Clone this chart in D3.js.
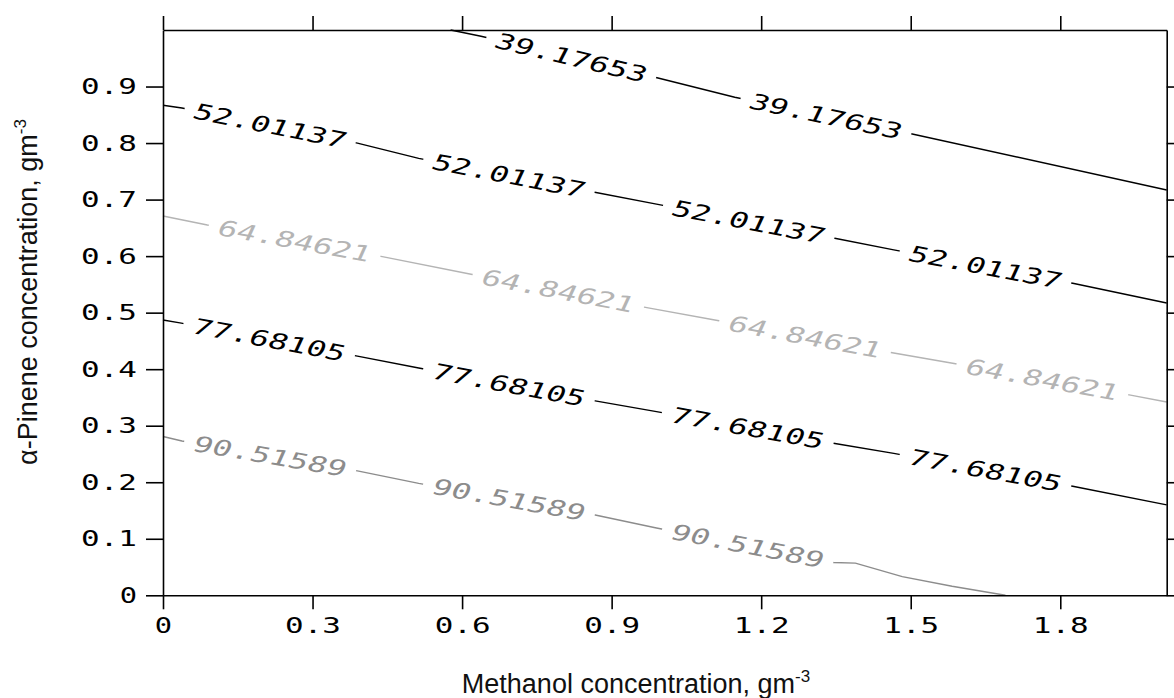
<!DOCTYPE html>
<html>
<head>
<meta charset="utf-8">
<script src="https://cdn.jsdelivr.net/npm/d3@7"></script>
<style>
  body { margin: 0; background: #fff; }
  svg { display: block; }
</style>
</head>
<body>
<svg id="chart" width="1174" height="698"></svg>
<script>
// axis ticks
var xTicks = [0, 0.3, 0.6, 0.9, 1.2, 1.5, 1.8]
var yTicks = [0, 0.1, 0.2, 0.3, 0.4, 0.5, 0.6, 0.7, 0.8, 0.9]
var xMax = 2.0135
var yMax = 1.0

// contour levels
var levels = [39.17653, 52.01137, 64.84621, 77.68105, 90.51589]

// traced contour lines: [methanol, pinene]
var line39 = [[0.577, 1.0], [0.638, 0.989], [0.993, 0.915], [1.147, 0.881], [1.503, 0.816], [2.0135, 0.717]]
var line52 = [[0, 0.867], [0.038, 0.862], [0.390, 0.800], [0.513, 0.773], [0.866, 0.713], [0.990, 0.692],
              [1.345, 0.632], [1.466, 0.611], [1.825, 0.552], [2.0135, 0.517]]
var line64 = [[0, 0.671], [0.089, 0.655], [0.440, 0.599], [0.618, 0.568], [0.976, 0.508], [1.107, 0.487],
              [1.463, 0.429], [1.587, 0.410], [1.941, 0.354], [2.0135, 0.342]]
var line77 = [[0, 0.487], [0.034, 0.482], [0.390, 0.423], [0.513, 0.402], [0.867, 0.344], [0.990, 0.325],
              [1.345, 0.269], [1.466, 0.251], [1.825, 0.193], [2.0135, 0.160]]
var line90 = [[0, 0.281], [0.038, 0.273], [0.390, 0.220], [0.513, 0.198], [0.867, 0.142], [0.990, 0.119],
              [1.345, 0.058], [1.389, 0.057], [1.483, 0.033], [1.583, 0.016], [1.690, 0]]

// methanol value at the centre of each inline label
var labels39 = [0.819, 1.330]
var labels52 = [0.215, 0.694, 1.175, 1.650]
var labels64 = [0.264, 0.793, 1.288, 1.764]
var labels77 = [0.213, 0.694, 1.173, 1.650]
var labels90 = [0.215, 0.694, 1.173]

var contourLines = [line39, line52, line64, line77, line90]
var contourLabels = [labels39, labels52, labels64, labels77, labels90]
var levelColor = ['#000', '#000', '#b4b4b4', '#000', '#8c8c8c']

var margin = {left: 163, top: 30, right: 1166.7, bottom: 595.3}
var monoFont = "'DejaVu Sans Mono', 'Liberation Mono', monospace"
var charW = 19.3

var svg = d3.select('#chart')

var x = d3.scaleLinear().domain([0, xMax]).range([margin.left, margin.right])
var y = d3.scaleLinear().domain([0, yMax]).range([margin.bottom, margin.top])

var line = d3.line()
    .x(function(d) { return x(d[0]) })
    .y(function(d) { return y(d[1]) })

// find label centre + angle on a traced line, in pixels
function placeLabel(pts, xv) {
  var i = 0
  while (i < pts.length - 2 && pts[i + 1][0] < xv) i++
  var x0 = x(pts[i][0]), y0 = y(pts[i][1])
  var x1 = x(pts[i + 1][0]), y1 = y(pts[i + 1][1])
  var px = x(xv)
  var t = (px - x0) / (x1 - x0)
  return {
    x: px,
    y: y0 + t * (y1 - y0),
    angle: Math.atan2(y1 - y0, x1 - x0) * 180 / Math.PI
  }
}

// build label list
var labelData = []
contourLabels.forEach(function(xs, k) {
  xs.forEach(function(xv) {
    var p = placeLabel(contourLines[k], xv)
    p.text = levels[k].toFixed(5)
    p.color = levelColor[k]
    labelData.push(p)
  })
})

function labelTransform(d) {
  return 'translate(' + d.x + ',' + d.y + ') rotate(' + d.angle + ')'
}

// mask that breaks the lines where labels sit
var mask = svg.append('defs').append('mask')
    .attr('id', 'gaps')
    .attr('maskUnits', 'userSpaceOnUse')
    .attr('x', 0).attr('y', 0).attr('width', 1174).attr('height', 698)
mask.append('rect')
    .attr('width', 1174).attr('height', 698)
    .attr('fill', '#fff')
mask.selectAll('rect.gap')
    .data(labelData)
    .enter().append('rect')
    .attr('class', 'gap')
    .attr('x', function(d) { return -(d.text.length * charW) / 2 - 10 })
    .attr('y', -11)
    .attr('width', function(d) { return d.text.length * charW + 20 })
    .attr('height', 22)
    .attr('fill', '#000')
    .attr('transform', labelTransform)

svg.append('g')
    .attr('mask', 'url(#gaps)')
    .selectAll('path')
    .data(contourLines)
    .enter().append('path')
    .attr('d', line)
    .attr('fill', 'none')
    .attr('stroke', function(d, i) { return levelColor[i] })
    .attr('stroke-width', 1.4)

// slanted labels (skew gives the oblique look of the plotting font)
svg.append('g')
    .selectAll('text')
    .data(labelData)
    .enter().append('text')
    .attr('transform', function(d) { return labelTransform(d) + ' skewX(-14)' })
    .attr('text-anchor', 'middle')
    .attr('dominant-baseline', 'central')
    .attr('textLength', function(d) { return d.text.length * charW })
    .attr('lengthAdjust', 'spacingAndGlyphs')
    .style('font-family', monoFont)
    .style('font-size', '22px')
    .attr('fill', function(d) { return d.color })
    .text(function(d) { return d.text })

// axes
var fmt = function(d) { return String(+d.toFixed(1)) }

function styleAxis(g) {
  g.attr('font-family', null).attr('font-size', null)
  g.selectAll('.domain, .tick line').attr('stroke', '#000').attr('stroke-width', 1.6)
  g.selectAll('.tick text')
      .attr('fill', '#000')
      .style('font-family', monoFont)
      .style('font-size', '22px')
      .attr('textLength', function(d) { return fmt(d).length * charW - 2 })
      .attr('lengthAdjust', 'spacingAndGlyphs')
}

svg.append('g')
    .attr('transform', 'translate(0,' + margin.bottom + ')')
    .call(d3.axisBottom(x).tickValues(xTicks).tickSize(14).tickSizeOuter(0).tickPadding(8).tickFormat(fmt))
    .call(styleAxis)

svg.append('g')
    .attr('transform', 'translate(' + margin.left + ',0)')
    .call(d3.axisLeft(y).tickValues(yTicks).tickSize(17).tickSizeOuter(0).tickPadding(9).tickFormat(fmt))
    .call(styleAxis)

svg.append('g')
    .attr('transform', 'translate(0,' + margin.top + ')')
    .call(d3.axisTop(x).tickValues(xTicks).tickSize(14).tickSizeOuter(0).tickFormat(''))
    .call(styleAxis)

svg.append('g')
    .attr('transform', 'translate(' + margin.right + ',0)')
    .call(d3.axisRight(y).tickValues(yTicks).tickSize(12).tickSizeOuter(0).tickFormat(''))
    .call(styleAxis)

// axis titles
var titleFont = "'Liberation Sans', Arial, sans-serif"

var xTitle = svg.append('text')
    .attr('x', 636).attr('y', 693)
    .attr('text-anchor', 'middle')
    .style('font-family', titleFont)
    .style('font-size', '27px')
    .attr('fill', '#111')
xTitle.append('tspan').text('Methanol concentration, gm')
xTitle.append('tspan').attr('dy', -11).style('font-size', '17px').text('-3')

var yTitle = svg.append('text')
    .attr('transform', 'translate(37,292) rotate(-90)')
    .attr('text-anchor', 'middle')
    .style('font-family', titleFont)
    .style('font-size', '27px')
    .attr('fill', '#111')
yTitle.append('tspan').text('α-Pinene concentration, gm')
yTitle.append('tspan').attr('dy', -11).style('font-size', '17px').text('-3')
</script>
</body>
</html>
